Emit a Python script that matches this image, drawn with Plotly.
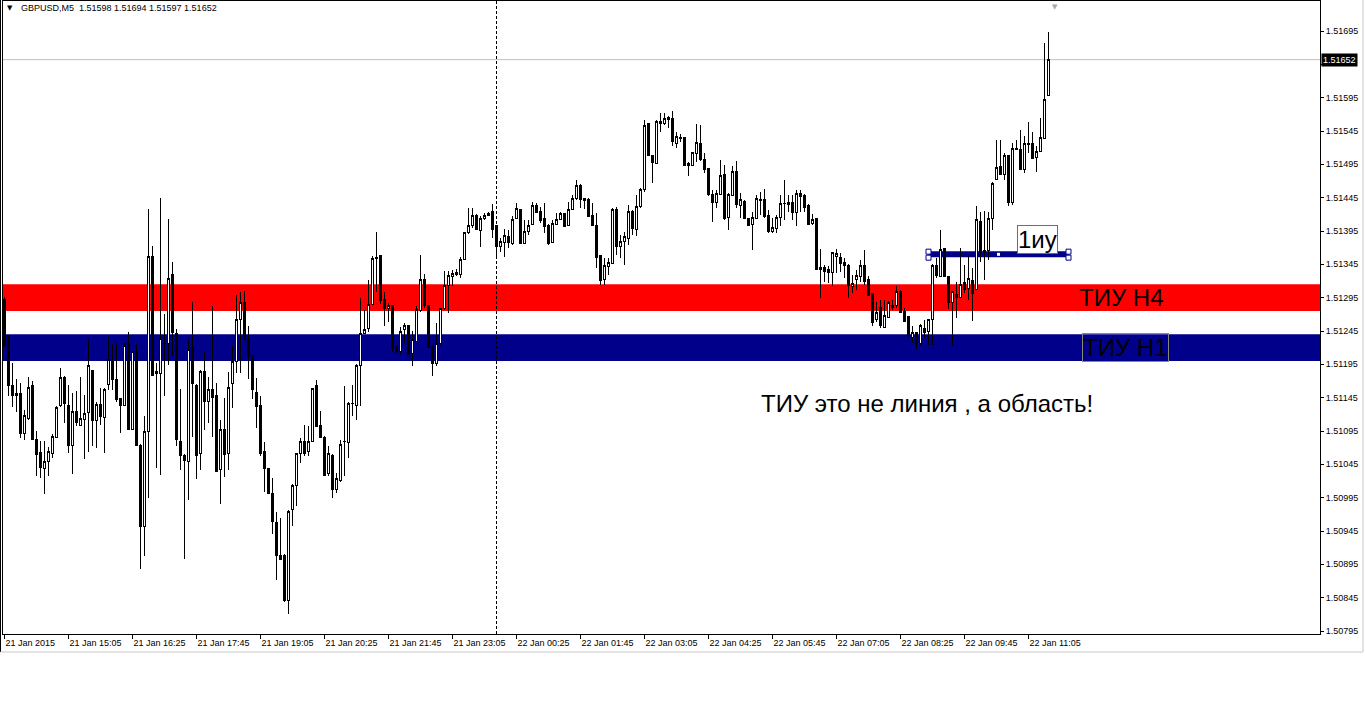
# -*- coding: utf-8 -*-

import plotly.graph_objects as go


# GBPUSD M5, bars from 21 Jan 2015 13:45 to 22 Jan 2015 11:30
open_ = [
    1.51292, 1.51238, 1.51164, 1.51149, 1.51152, 1.51092, 1.51114, 1.51164, 1.51082, 1.51063,
    1.51039, 1.51050, 1.51062, 1.51086, 1.51134, 1.51176, 1.51134, 1.51074, 1.51125, 1.51104,
    1.51113, 1.51123, 1.51186, 1.51111, 1.51135, 1.51115, 1.51165, 1.51199, 1.51173, 1.51144,
    1.51133, 1.51226, 1.51098, 1.51215, 1.51074, 1.50952, 1.51095, 1.51357, 1.51182, 1.51182,
    1.51226, 1.51227, 1.51330, 1.51242, 1.51080, 1.51059, 1.51049, 1.51220, 1.51164, 1.51062,
    1.51185, 1.51139, 1.51158, 1.51148, 1.51038, 1.51097, 1.51062, 1.51167, 1.51200, 1.51263,
    1.51288, 1.51233, 1.51208, 1.51153, 1.51134, 1.51065, 1.51039, 1.51001, 1.50958, 1.50909,
    1.50909, 1.50841, 1.50977, 1.51013, 1.51062, 1.51080, 1.51064, 1.51079, 1.51164, 1.51104,
    1.51086, 1.51032, 1.51059, 1.51008, 1.51021, 1.51079, 1.51078, 1.51136, 1.51134, 1.51193,
    1.51241, 1.51249, 1.51285, 1.51354, 1.51358, 1.51292, 1.51279, 1.51283, 1.51222, 1.51214,
    1.51248, 1.51253, 1.51211, 1.51230, 1.51276, 1.51322, 1.51283, 1.51222, 1.51197, 1.51226,
    1.51279, 1.51313, 1.51327, 1.51330, 1.51330, 1.51353, 1.51393, 1.51404, 1.51419, 1.51396,
    1.51414, 1.51418, 1.51424, 1.51403, 1.51372, 1.51378, 1.51387, 1.51376, 1.51414, 1.51427,
    1.51377, 1.51395, 1.51405, 1.51433, 1.51424, 1.51414, 1.51404, 1.51378, 1.51405, 1.51413,
    1.51421, 1.51403, 1.51428, 1.51444, 1.51463, 1.51444, 1.51443, 1.51418, 1.51404, 1.51358,
    1.51322, 1.51342, 1.51347, 1.51427, 1.51372, 1.51379, 1.51384, 1.51425, 1.51398, 1.51432,
    1.51457, 1.51556, 1.51508, 1.51497, 1.51560, 1.51556, 1.51565, 1.51564, 1.51527, 1.51534,
    1.51535, 1.51496, 1.51493, 1.51512, 1.51527, 1.51503, 1.51489, 1.51450, 1.51438, 1.51450,
    1.51480, 1.51415, 1.51449, 1.51484, 1.51434, 1.51440, 1.51414, 1.51405, 1.51414, 1.51443,
    1.51442, 1.51418, 1.51395, 1.51399, 1.51416, 1.51436, 1.51435, 1.51438, 1.51423, 1.51451,
    1.51449, 1.51433, 1.51406, 1.51414, 1.51340, 1.51340, 1.51337, 1.51333, 1.51357, 1.51356,
    1.51348, 1.51344, 1.51312, 1.51322, 1.51327, 1.51344, 1.51322, 1.51301, 1.51263, 1.51280,
    1.51251, 1.51266, 1.51284, 1.51284, 1.51305, 1.51274, 1.51267, 1.51236, 1.51243, 1.51227,
    1.51249, 1.51244, 1.51262, 1.51343, 1.51327, 1.51369, 1.51327, 1.51288, 1.51300, 1.51295,
    1.51318, 1.51309, 1.51321, 1.51307, 1.51410, 1.51363, 1.51366, 1.51414, 1.51472, 1.51492,
    1.51480, 1.51508, 1.51438, 1.51517, 1.51518, 1.51487, 1.51527, 1.51527, 1.51505, 1.51515,
    1.51534, 1.51598,
]

high = [
    1.51296, 1.51239, 1.51197, 1.51173, 1.51167, 1.51127, 1.51176, 1.51170, 1.51095, 1.51080,
    1.51080, 1.51071, 1.51090, 1.51132, 1.51190, 1.51177, 1.51164, 1.51152, 1.51155, 1.51176,
    1.51149, 1.51233, 1.51187, 1.51138, 1.51160, 1.51160, 1.51236, 1.51226, 1.51227, 1.51145,
    1.51227, 1.51243, 1.51215, 1.51226, 1.51075, 1.51117, 1.51428, 1.51373, 1.51197, 1.51444,
    1.51271, 1.51413, 1.51349, 1.51248, 1.51158, 1.51060, 1.51233, 1.51289, 1.51165, 1.51186,
    1.51213, 1.51176, 1.51283, 1.51167, 1.51111, 1.51144, 1.51184, 1.51222, 1.51299, 1.51303,
    1.51305, 1.51252, 1.51209, 1.51174, 1.51147, 1.51078, 1.51040, 1.51024, 1.50973, 1.50964,
    1.50910, 1.50976, 1.51016, 1.51062, 1.51084, 1.51104, 1.51102, 1.51160, 1.51172, 1.51125,
    1.51087, 1.51072, 1.51060, 1.51032, 1.51082, 1.51162, 1.51139, 1.51164, 1.51195, 1.51295,
    1.51276, 1.51322, 1.51357, 1.51393, 1.51359, 1.51304, 1.51287, 1.51284, 1.51223, 1.51251,
    1.51257, 1.51254, 1.51245, 1.51283, 1.51359, 1.51331, 1.51284, 1.51224, 1.51257, 1.51280,
    1.51335, 1.51335, 1.51337, 1.51338, 1.51356, 1.51394, 1.51429, 1.51429, 1.51420, 1.51417,
    1.51422, 1.51424, 1.51435, 1.51404, 1.51384, 1.51398, 1.51397, 1.51417, 1.51437, 1.51428,
    1.51412, 1.51412, 1.51439, 1.51437, 1.51431, 1.51437, 1.51405, 1.51412, 1.51422, 1.51424,
    1.51422, 1.51439, 1.51449, 1.51472, 1.51465, 1.51445, 1.51444, 1.51437, 1.51422, 1.51359,
    1.51354, 1.51354, 1.51429, 1.51431, 1.51389, 1.51394, 1.51434, 1.51427, 1.51449, 1.51459,
    1.51562, 1.51557, 1.51509, 1.51562, 1.51572, 1.51572, 1.51568, 1.51575, 1.51544, 1.51540,
    1.51536, 1.51499, 1.51514, 1.51556, 1.51554, 1.51512, 1.51490, 1.51457, 1.51457, 1.51502,
    1.51494, 1.51452, 1.51492, 1.51500, 1.51452, 1.51441, 1.51415, 1.51424, 1.51449, 1.51453,
    1.51458, 1.51427, 1.51414, 1.51419, 1.51449, 1.51472, 1.51449, 1.51449, 1.51456, 1.51457,
    1.51450, 1.51436, 1.51420, 1.51415, 1.51368, 1.51344, 1.51343, 1.51364, 1.51368, 1.51362,
    1.51354, 1.51345, 1.51329, 1.51337, 1.51352, 1.51367, 1.51328, 1.51302, 1.51289, 1.51292,
    1.51292, 1.51290, 1.51292, 1.51313, 1.51306, 1.51280, 1.51268, 1.51252, 1.51244, 1.51255,
    1.51262, 1.51263, 1.51345, 1.51354, 1.51397, 1.51370, 1.51328, 1.51305, 1.51319, 1.51370,
    1.51344, 1.51359, 1.51339, 1.51433, 1.51424, 1.51425, 1.51424, 1.51468, 1.51531, 1.51532,
    1.51512, 1.51509, 1.51527, 1.51532, 1.51547, 1.51537, 1.51559, 1.51543, 1.51522, 1.51564,
    1.51677, 1.51694,
]

low = [
    1.51221, 1.51148, 1.51131, 1.51124, 1.51084, 1.51081, 1.51112, 1.51082, 1.51028, 1.51024,
    1.51000, 1.51028, 1.51055, 1.51085, 1.51131, 1.51107, 1.51062, 1.51031, 1.51103, 1.51103,
    1.51053, 1.51064, 1.51073, 1.51070, 1.51104, 1.51062, 1.51157, 1.51156, 1.51138, 1.51092,
    1.51132, 1.51096, 1.51096, 1.51073, 1.50888, 1.50907, 1.50994, 1.51178, 1.51040, 1.51029,
    1.51148, 1.51194, 1.51208, 1.51072, 1.51037, 1.50903, 1.50991, 1.51086, 1.51023, 1.51037,
    1.51097, 1.51107, 1.51086, 1.51033, 1.50986, 1.51026, 1.51037, 1.51130, 1.51182, 1.51182,
    1.51231, 1.51173, 1.51143, 1.51100, 1.51058, 1.51003, 1.51001, 1.50940, 1.50872, 1.50902,
    1.50838, 1.50820, 1.50952, 1.50982, 1.51047, 1.51057, 1.51057, 1.51078, 1.51101, 1.51085,
    1.51027, 1.51027, 1.50994, 1.51002, 1.51018, 1.51027, 1.51055, 1.51117, 1.51112, 1.51132,
    1.51240, 1.51244, 1.51284, 1.51303, 1.51286, 1.51252, 1.51258, 1.51213, 1.51210, 1.51211,
    1.51227, 1.51209, 1.51192, 1.51229, 1.51274, 1.51279, 1.51219, 1.51178, 1.51193, 1.51224,
    1.51277, 1.51272, 1.51312, 1.51327, 1.51324, 1.51352, 1.51390, 1.51399, 1.51397, 1.51371,
    1.51412, 1.51417, 1.51384, 1.51357, 1.51364, 1.51356, 1.51369, 1.51374, 1.51413, 1.51376,
    1.51376, 1.51389, 1.51404, 1.51422, 1.51407, 1.51392, 1.51374, 1.51377, 1.51404, 1.51412,
    1.51401, 1.51402, 1.51427, 1.51442, 1.51429, 1.51428, 1.51416, 1.51402, 1.51339, 1.51314,
    1.51314, 1.51329, 1.51346, 1.51359, 1.51354, 1.51344, 1.51374, 1.51389, 1.51387, 1.51429,
    1.51454, 1.51507, 1.51467, 1.51495, 1.51544, 1.51554, 1.51550, 1.51522, 1.51519, 1.51529,
    1.51493, 1.51477, 1.51492, 1.51499, 1.51500, 1.51482, 1.51447, 1.51408, 1.51429, 1.51449,
    1.51412, 1.51397, 1.51448, 1.51429, 1.51415, 1.51413, 1.51402, 1.51367, 1.51413, 1.51419,
    1.51414, 1.51392, 1.51392, 1.51392, 1.51402, 1.51412, 1.51424, 1.51411, 1.51402, 1.51424,
    1.51424, 1.51404, 1.51404, 1.51337, 1.51294, 1.51318, 1.51317, 1.51312, 1.51332, 1.51333,
    1.51324, 1.51294, 1.51302, 1.51307, 1.51319, 1.51314, 1.51298, 1.51252, 1.51258, 1.51249,
    1.51249, 1.51264, 1.51276, 1.51279, 1.51272, 1.51258, 1.51234, 1.51227, 1.51218, 1.51222,
    1.51234, 1.51224, 1.51224, 1.51324, 1.51326, 1.51326, 1.51278, 1.51223, 1.51265, 1.51294,
    1.51302, 1.51292, 1.51260, 1.51306, 1.51348, 1.51322, 1.51352, 1.51397, 1.51471, 1.51479,
    1.51472, 1.51432, 1.51434, 1.51516, 1.51486, 1.51482, 1.51512, 1.51503, 1.51484, 1.51514,
    1.51533, 1.51597,
]

close = [
    1.51224, 1.51163, 1.51148, 1.51152, 1.51092, 1.51119, 1.51161, 1.51083, 1.51060, 1.51041,
    1.51050, 1.51064, 1.51087, 1.51131, 1.51176, 1.51137, 1.51074, 1.51125, 1.51108, 1.51114,
    1.51122, 1.51194, 1.51111, 1.51135, 1.51117, 1.51158, 1.51202, 1.51173, 1.51142, 1.51133,
    1.51224, 1.51097, 1.51214, 1.51074, 1.50952, 1.51095, 1.51357, 1.51179, 1.51184, 1.51234,
    1.51227, 1.51324, 1.51243, 1.51082, 1.51058, 1.51051, 1.51217, 1.51167, 1.51058, 1.51185,
    1.51139, 1.51158, 1.51146, 1.51034, 1.51097, 1.51060, 1.51161, 1.51200, 1.51263, 1.51288,
    1.51232, 1.51208, 1.51157, 1.51132, 1.51061, 1.51039, 1.51002, 1.50959, 1.50909, 1.50903,
    1.50841, 1.50975, 1.51013, 1.51061, 1.51080, 1.51062, 1.51080, 1.51159, 1.51102, 1.51086,
    1.51028, 1.51062, 1.51008, 1.51024, 1.51075, 1.51080, 1.51136, 1.51137, 1.51194, 1.51242,
    1.51248, 1.51285, 1.51354, 1.51356, 1.51291, 1.51279, 1.51283, 1.51220, 1.51214, 1.51245,
    1.51253, 1.51210, 1.51233, 1.51277, 1.51322, 1.51284, 1.51220, 1.51197, 1.51226, 1.51279,
    1.51314, 1.51328, 1.51331, 1.51333, 1.51353, 1.51393, 1.51404, 1.51419, 1.51398, 1.51414,
    1.51418, 1.51422, 1.51398, 1.51372, 1.51380, 1.51388, 1.51378, 1.51413, 1.51429, 1.51377,
    1.51395, 1.51404, 1.51433, 1.51423, 1.51411, 1.51402, 1.51377, 1.51407, 1.51413, 1.51422,
    1.51402, 1.51428, 1.51444, 1.51464, 1.51443, 1.51441, 1.51417, 1.51403, 1.51356, 1.51321,
    1.51343, 1.51348, 1.51428, 1.51372, 1.51379, 1.51387, 1.51425, 1.51399, 1.51432, 1.51457,
    1.51554, 1.51508, 1.51498, 1.51559, 1.51557, 1.51564, 1.51563, 1.51529, 1.51537, 1.51535,
    1.51494, 1.51493, 1.51513, 1.51528, 1.51503, 1.51488, 1.51450, 1.51438, 1.51452, 1.51478,
    1.51414, 1.51450, 1.51484, 1.51435, 1.51442, 1.51414, 1.51403, 1.51415, 1.51444, 1.51441,
    1.51417, 1.51395, 1.51401, 1.51415, 1.51436, 1.51437, 1.51438, 1.51423, 1.51451, 1.51447,
    1.51431, 1.51405, 1.51412, 1.51338, 1.51337, 1.51335, 1.51333, 1.51363, 1.51361, 1.51346,
    1.51343, 1.51313, 1.51317, 1.51329, 1.51344, 1.51319, 1.51299, 1.51258, 1.51273, 1.51253,
    1.51268, 1.51288, 1.51281, 1.51305, 1.51273, 1.51259, 1.51239, 1.51243, 1.51227, 1.51253,
    1.51243, 1.51262, 1.51344, 1.51328, 1.51367, 1.51327, 1.51288, 1.51304, 1.51295, 1.51315,
    1.51307, 1.51324, 1.51302, 1.51412, 1.51363, 1.51366, 1.51414, 1.51467, 1.51490, 1.51480,
    1.51508, 1.51438, 1.51519, 1.51519, 1.51487, 1.51527, 1.51525, 1.51504, 1.51515, 1.51535,
    1.51593, 1.51652,
]

# time axis labels, one every 16 bars
time_labels = [
    '21 Jan 2015', '21 Jan 15:05', '21 Jan 16:25', '21 Jan 17:45', '21 Jan 19:05',
    '21 Jan 20:25', '21 Jan 21:45', '21 Jan 23:05', '22 Jan 00:25', '22 Jan 01:45',
    '22 Jan 03:05', '22 Jan 04:25', '22 Jan 05:45', '22 Jan 07:05', '22 Jan 08:25',
    '22 Jan 09:45', '22 Jan 11:05',
]
label_step = 16

price_ticks = [
    1.50795, 1.50845, 1.50895, 1.50945, 1.50995, 1.51045, 1.51095, 1.51145, 1.51195, 1.51245,
    1.51295, 1.51345, 1.51395, 1.51445, 1.51495, 1.51545, 1.51595, 1.51645, 1.51695,
]

# levels drawn on the chart
zone_h4 = [1.51275, 1.51315]
zone_h1 = [1.51200, 1.51240]
level_1iu = 1.51360
level_1iu_bars = [231, 266]
day_break_bar = 123
bid = 1.51652

FONT = 'Liberation Sans, Arial, sans-serif'
NAVY = '#00008B'

# page tweaks: no body margin, crisp 1px candle outlines like the terminal
PAGE_JS = (
    "document.body.style.margin='0';"
    "var s=document.createElement('style');"
    "s.textContent='.boxlayer path{shape-rendering:crispEdges}';"
    "document.head.appendChild(s);"
)


def px_x(px):
    # paper x of a screen column (plot area runs from x=3 to x=1320)
    return (px - 3) / 1317.0


def px_y(py):
    # paper y of a screen row (plot area runs from y=1 to y=634)
    return (634 - py) / 633.0


def build_chart():
    bars = list(range(len(close)))

    fig = go.Figure()
    fig.add_trace(go.Candlestick(
        x=bars, open=open_, high=high, low=low, close=close,
        increasing=dict(line=dict(color='black', width=1), fillcolor='white'),
        decreasing=dict(line=dict(color='black', width=1), fillcolor='black'),
        whiskerwidth=0, showlegend=False, hoverinfo='skip'))

    # anchor handles of the selected 1иу line
    x0, x1 = level_1iu_bars
    fig.add_trace(go.Scatter(
        x=[x0, x0, x1, x1], y=[level_1iu + 0.00004, level_1iu - 0.00005,
                               level_1iu + 0.00004, level_1iu - 0.00005],
        mode='markers', showlegend=False, hoverinfo='skip',
        marker=dict(symbol='square', size=5, color='white', line=dict(color=NAVY, width=1))))
    fig.add_trace(go.Scatter(
        x=[(x0 + x1) / 2.0], y=[level_1iu], mode='markers', showlegend=False, hoverinfo='skip',
        marker=dict(symbol='square', size=3, color='white', line=dict(width=0))))

    fig.add_hrect(y0=zone_h4[0], y1=zone_h4[1], fillcolor='#FF0000', opacity=1,
                  line_width=0, layer='below')
    fig.add_hrect(y0=zone_h1[0], y1=zone_h1[1], fillcolor=NAVY, opacity=1,
                  line_width=0, layer='below')
    fig.add_shape(type='line', xref='x', yref='y', x0=x0, x1=x1, y0=level_1iu, y1=level_1iu,
                  line=dict(color=NAVY, width=6), layer='below')
    fig.add_hline(y=bid, line=dict(color='#C0C0C0', width=1), layer='below')
    fig.add_vline(x=day_break_bar, line=dict(color='black', width=1, dash='3px,2px'),
                  layer='below')

    # window frame
    fig.add_shape(type='line', xref='paper', yref='paper', x0=px_x(0.5), x1=px_x(0.5),
                  y0=px_y(652), y1=px_y(0), line=dict(color='black', width=1))
    fig.add_shape(type='line', xref='paper', yref='paper', x0=px_x(0.5), x1=px_x(1363),
                  y0=px_y(652), y1=px_y(652), line=dict(color='#C8C8C8', width=1))
    fig.add_shape(type='line', xref='paper', yref='paper', x0=px_x(1363), x1=px_x(1363),
                  y0=px_y(652), y1=px_y(0), line=dict(color='#C8C8C8', width=1))

    notes = [
        dict(x=268.2, y=sum(zone_h4) / 2, text='ТИУ H4'),
        dict(x=269.3, y=sum(zone_h1) / 2, text='ТИУ H1', bordercolor='#8A8A78',
             borderwidth=1, borderpad=0),
        dict(x=253.0, y=1.51382, text='1иу', bordercolor='#6E6E6E', borderwidth=1,
             borderpad=0, bgcolor='white'),
        dict(x=188.5, y=1.51137, text='ТИУ это не линия , а область!'),
    ]
    for n in notes:
        fig.add_annotation(xref='x', yref='y', xanchor='left', yanchor='middle',
                           showarrow=False, font=dict(family=FONT, size=24, color='black'), **n)

    fig.add_annotation(xref='paper', yref='paper', x=px_x(5), y=px_y(8), xanchor='left',
                       yanchor='middle', showarrow=False, text='▼',
                       font=dict(family='DejaVu Sans', size=7, color='black'))
    fig.add_annotation(xref='paper', yref='paper', x=px_x(19), y=px_y(8), xanchor='left',
                       yanchor='middle', showarrow=False,
                       text='GBPUSD,M5\u00a0\u00a0%.5f %.5f %.5f %.5f' % (
                           open_[-1], high[-1], low[-1], close[-1]),
                       font=dict(family=FONT, size=9, color='black'))
    fig.add_annotation(xref='paper', yref='paper', x=px_x(1055), y=px_y(1), xanchor='center',
                       yanchor='top', showarrow=False, text='▼',
                       font=dict(family='DejaVu Sans', size=7, color='#A8A8A8'))
    fig.add_annotation(xref='paper', yref='y', x=1, xshift=1, y=bid, xanchor='left',
                       yanchor='middle', showarrow=False, text='%.5f' % bid,
                       bgcolor='black', borderpad=1,
                       font=dict(family=FONT, size=9, color='white'))

    # the 1.51645 label sits under the bid box, so only its tick is shown
    tick_text = ['' if abs(p - bid) < 0.0002 else '%.5f' % p for p in price_ticks]

    fig.update_layout(
        width=1365, height=716,
        margin=dict(l=3, r=45, t=1, b=82),
        paper_bgcolor='white', plot_bgcolor='white',
        font=dict(family=FONT, size=9, color='black'),
        showlegend=False,
        # body 2 bar-px wide + 1px outline = 3px candles on a 4px step
        boxgap=0.5,
        xaxis=dict(
            # bar centres fall on half pixels so outlines stay sharp
            range=[-0.375, 328.875], rangeslider=dict(visible=False),
            showgrid=False, zeroline=False,
            showline=True, linecolor='black', linewidth=1, mirror=True,
            ticks='outside', ticklen=4, tickcolor='black',
            tickvals=[i * label_step for i in range(len(time_labels))],
            ticktext=time_labels, ticklabelposition='outside right',
            tickfont=dict(family=FONT, size=9, color='black'),
        ),
        yaxis=dict(
            range=[1.507905, 1.51740], side='right',
            showgrid=False, zeroline=False,
            showline=True, linecolor='black', linewidth=1, mirror=True,
            ticks='outside', ticklen=3, tickcolor='black',
            tickvals=price_ticks, ticktext=tick_text,
            tickfont=dict(family=FONT, size=9, color='black'),
        ),
    )
    return fig


def main():
    fig = build_chart()
    fig.write_html("out.html", config={'displayModeBar': False}, post_script=PAGE_JS)


if __name__ == "__main__":
    main()
